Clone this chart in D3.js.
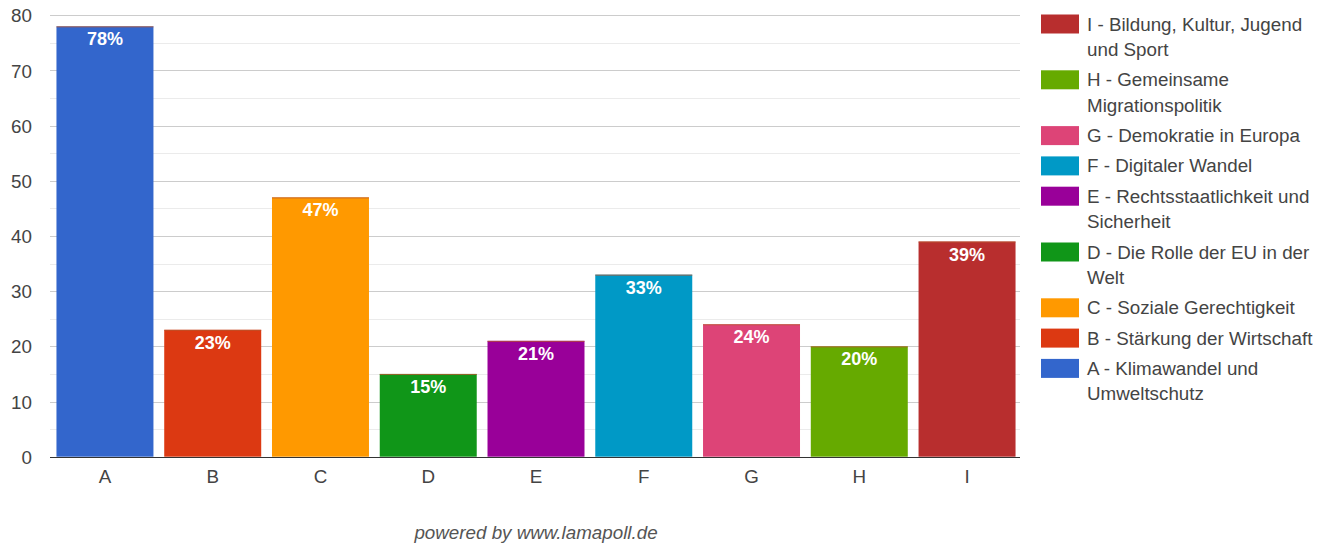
<!DOCTYPE html>
<html>
<head>
<meta charset="utf-8">
<script src="https://cdn.jsdelivr.net/npm/d3@7"></script>
<style>
  html, body { margin: 0; padding: 0; background: #fff; }
  svg { display: block; font-family: Arial, "Liberation Sans", sans-serif; }
</style>
</head>
<body>
<svg id="chart" width="1329" height="544"></svg>
<script>
// Topic categories and share of mentions (percent)
const categories = ["A", "B", "C", "D", "E", "F", "G", "H", "I"];
const values = [78, 23, 47, 15, 21, 33, 24, 20, 39];
const colors = ["#3366cc", "#dc3912", "#ff9900", "#109618", "#990099",
                "#0099c6", "#dd4477", "#66aa00", "#b82e2e"];
const legendLabels = [
  "A - Klimawandel und Umweltschutz",
  "B - Stärkung der Wirtschaft",
  "C - Soziale Gerechtigkeit",
  "D - Die Rolle der EU in der Welt",
  "E - Rechtsstaatlichkeit und Sicherheit",
  "F - Digitaler Wandel",
  "G - Demokratie in Europa",
  "H - Gemeinsame Migrationspolitik",
  "I - Bildung, Kultur, Jugend und Sport"
];
const yTicks = [0, 10, 20, 30, 40, 50, 60, 70, 80];
const footer = "powered by www.lamapoll.de";

const FS = 18.8;
const svg = d3.select("#chart");
const plot = { left: 50, right: 1020, top: 15.3, bottom: 456.7 };

const x = d3.scaleBand()
  .domain(categories)
  .range([plot.left, plot.right + 2])
  .paddingInner(0.1)
  .paddingOuter(0.06);

const y = d3.scaleLinear()
  .domain([0, 80])
  .range([plot.bottom, plot.top]);

// minor gridlines
svg.append("g")
  .selectAll("line")
  .data(d3.range(5, 80, 10))
  .join("line")
  .attr("x1", plot.left).attr("x2", plot.right)
  .attr("y1", d => Math.round(y(d)) + 0.5).attr("y2", d => Math.round(y(d)) + 0.5)
  .attr("stroke", "#ebebeb");

// major gridlines
svg.append("g")
  .selectAll("line")
  .data(yTicks.slice(1))
  .join("line")
  .attr("x1", plot.left).attr("x2", plot.right)
  .attr("y1", d => Math.round(y(d)) + 0.5).attr("y2", d => Math.round(y(d)) + 0.5)
  .attr("stroke", "#cccccc");

// y axis labels
const yAxis = d3.axisLeft(y).tickValues(yTicks).tickSize(0).tickPadding(0);
const yg = svg.append("g")
  .attr("transform", `translate(${plot.left - 18},0)`)
  .call(yAxis);
yg.select(".domain").remove();
yg.selectAll("text")
  .attr("font-size", FS)
  .attr("font-family", "Arial, 'Liberation Sans', sans-serif")
  .attr("fill", "#444")
  .attr("dy", "0.35em");

// bars
const bars = svg.append("g");
bars.selectAll("rect")
  .data(categories)
  .join("rect")
  .attr("x", d => x(d))
  .attr("width", x.bandwidth())
  .attr("y", (d, i) => y(values[i]))
  .attr("height", (d, i) => y(0) - y(values[i]))
  .attr("fill", (d, i) => colors[i]);

// thin cap line where empty stacked segments sit on top of each bar
bars.selectAll("line.cap")
  .data(categories)
  .join("line")
  .attr("class", "cap")
  .attr("x1", d => x(d)).attr("x2", d => x(d) + x.bandwidth())
  .attr("y1", (d, i) => y(values[i]) + 0.5).attr("y2", (d, i) => y(values[i]) + 0.5)
  .attr("stroke", "#b8562e")
  .attr("stroke-opacity", 0.8);

// baseline
svg.append("line")
  .attr("x1", plot.left).attr("x2", plot.right)
  .attr("y1", Math.round(y(0)) + 0.5).attr("y2", Math.round(y(0)) + 0.5)
  .attr("stroke", "#333");

// value labels
svg.append("g")
  .selectAll("text")
  .data(categories)
  .join("text")
  .attr("x", d => x(d) + x.bandwidth() / 2)
  .attr("y", (d, i) => y(values[i]) + 19)
  .attr("text-anchor", "middle")
  .attr("font-size", 18)
  .attr("font-weight", "bold")
  .attr("fill", "#fff")
  .text((d, i) => values[i] + "%");

// x axis labels
const xAxis = d3.axisBottom(x).tickSize(0).tickPadding(0);
const xg = svg.append("g")
  .attr("transform", `translate(0,${plot.bottom + 26.5})`)
  .call(xAxis);
xg.select(".domain").remove();
xg.selectAll("text")
  .attr("font-size", FS)
  .attr("font-family", "Arial, 'Liberation Sans', sans-serif")
  .attr("fill", "#444")
  .attr("dy", 0);

// legend (reverse order, wrapped text)
const legend = svg.append("g");
const maxW = 236;
let cy = 24;
const order = d3.range(categories.length).reverse();
order.forEach(i => {
  const g = legend.append("g");
  g.append("rect")
    .attr("x", 1041).attr("y", cy - 9.5)
    .attr("width", 38).attr("height", 19)
    .attr("fill", colors[i]);
  const words = legendLabels[i].split(" ");
  const lines = [];
  let cur = "";
  const probe = g.append("text").attr("font-size", FS);
  words.forEach(w => {
    const t = cur ? cur + " " + w : w;
    probe.text(t);
    if (probe.node().getComputedTextLength() > maxW && cur) {
      lines.push(cur);
      cur = w;
    } else {
      cur = t;
    }
  });
  lines.push(cur);
  probe.remove();
  lines.forEach((ln, k) => {
    g.append("text")
      .attr("x", 1087)
      .attr("y", cy + k * 25.5)
      .attr("dy", "0.35em")
      .attr("font-size", FS)
      .attr("fill", "#444")
      .text(ln);
  });
  cy += (lines.length - 1) * 25.5 + 30.3;
});

// footer credit
svg.append("text")
  .attr("x", 536)
  .attr("y", 539)
  .attr("text-anchor", "middle")
  .attr("font-size", FS)
  .attr("font-style", "italic")
  .attr("fill", "#555")
  .text(footer);
</script>
</body>
</html>
